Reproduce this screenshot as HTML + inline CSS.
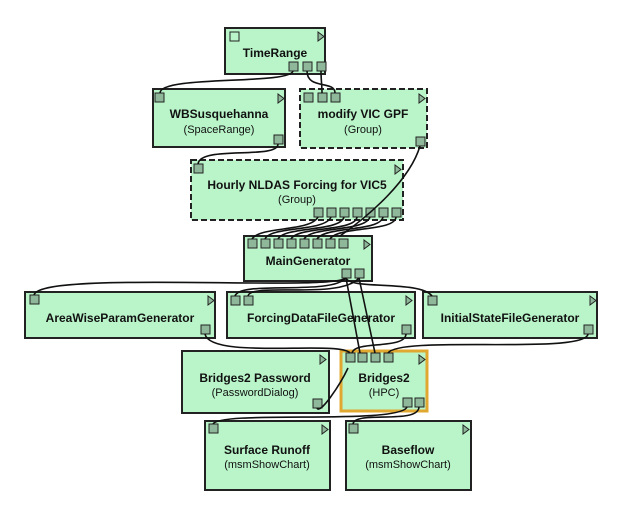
<!DOCTYPE html>
<html><head><style>body{margin:0;background:#fff}svg{display:block}text{font-family:"Liberation Sans",sans-serif;fill:#111}.b{font-weight:bold;font-size:12px}.s{font-size:11px}</style></head><body>
<svg width="634" height="512" xmlns="http://www.w3.org/2000/svg">
<defs>
<g id="p"><rect width="9" height="9" fill="#8fb89a" stroke="#222" stroke-width="1"/></g>
<g id="t"><path d="M0 0 L6 4.5 L0 9 Z" fill="#8fb89a" stroke="#222" stroke-width="1"/></g>
</defs>
<g fill="#b9f5c9" stroke="#222" stroke-width="2">
<rect x="225" y="28" width="100" height="46"/>
<rect x="153" y="89" width="132" height="58"/>
<rect x="300" y="89" width="127" height="59" stroke-dasharray="6,3"/>
<rect x="191" y="160" width="212" height="60" stroke-dasharray="6,3"/>
<rect x="244" y="236" width="128" height="45"/>
<rect x="25" y="292" width="190" height="46"/>
<rect x="227" y="292" width="188" height="46"/>
<rect x="423" y="292" width="174" height="46"/>
<rect x="182" y="351" width="147" height="62"/>
<rect x="341" y="351" width="86" height="60" stroke="#e0a830" stroke-width="3"/>
<rect x="205" y="421" width="125" height="69"/>
<rect x="346" y="421" width="125" height="69"/>
</g>
<rect x="230" y="32" width="9" height="9" fill="none" stroke="#222"/>
<use href="#t" x="318" y="32"/><use href="#t" x="278" y="94"/><use href="#t" x="419" y="94"/>
<use href="#t" x="395" y="165"/><use href="#t" x="364" y="240"/><use href="#t" x="208" y="296"/>
<use href="#t" x="406" y="296"/><use href="#t" x="590" y="296"/><use href="#t" x="320" y="355"/>
<use href="#t" x="419" y="355"/><use href="#t" x="322" y="425"/><use href="#t" x="463" y="425"/>
<use href="#p" x="289" y="62"/><use href="#p" x="303" y="62"/><use href="#p" x="317" y="62"/>
<use href="#p" x="155" y="93"/><use href="#p" x="274" y="135"/>
<use href="#p" x="304" y="93"/><use href="#p" x="318" y="93"/><use href="#p" x="331" y="93"/><use href="#p" x="416" y="137"/>
<use href="#p" x="194" y="164"/>
<use href="#p" x="314" y="208"/><use href="#p" x="327" y="208"/><use href="#p" x="340" y="208"/><use href="#p" x="353" y="208"/><use href="#p" x="366" y="208"/><use href="#p" x="379" y="208"/><use href="#p" x="392" y="208"/>
<use href="#p" x="248" y="239"/><use href="#p" x="261" y="239"/><use href="#p" x="274" y="239"/><use href="#p" x="287" y="239"/><use href="#p" x="300" y="239"/><use href="#p" x="313" y="239"/><use href="#p" x="326" y="239"/><use href="#p" x="339" y="239"/>
<use href="#p" x="342" y="269"/><use href="#p" x="355" y="269"/>
<use href="#p" x="30" y="295"/><use href="#p" x="201" y="325"/>
<use href="#p" x="231" y="296"/><use href="#p" x="244" y="296"/><use href="#p" x="402" y="325"/>
<use href="#p" x="428" y="296"/><use href="#p" x="584" y="325"/>
<use href="#p" x="313" y="399"/>
<use href="#p" x="346" y="353"/><use href="#p" x="358" y="353"/><use href="#p" x="371" y="353"/><use href="#p" x="384" y="353"/>
<use href="#p" x="403" y="398"/><use href="#p" x="415" y="398"/>
<use href="#p" x="209" y="424"/><use href="#p" x="349" y="424"/>
<g fill="none" stroke="#111" stroke-width="1.6">
<path d="M293 71 C290 85 160 75 160 93"/>
<path d="M307 71 C307 90 335 80 335 93"/>
<path d="M321 71 C321 80 322 85 322 93"/>
<path d="M278 144 C278 160 200 145 198 164"/>
<path d="M420 146 C410 180 370 215 340 236"/>
<path d="M318 217 C310 232 260 226 252 239"/>
<path d="M331 217 C325 232 270 226 265 239"/>
<path d="M344 217 C340 232 285 226 278 239"/>
<path d="M357 217 C355 232 298 226 291 239"/>
<path d="M370 217 C365 232 312 226 304 239"/>
<path d="M383 217 C380 232 325 226 317 239"/>
<path d="M396 217 C395 232 338 226 330 239"/>
<path d="M346 278 C330 292 40 270 34 295"/>
<path d="M346 278 C330 296 240 280 235 296"/>
<path d="M359 278 C340 300 250 282 248 296"/>
<path d="M346 278 C350 290 420 280 432 296"/>
<path d="M346 278 L360 353"/>
<path d="M359 278 L375 353"/>
<path d="M205 334 C210 360 340 340 350 353"/>
<path d="M406 334 C405 350 355 340 352 353"/>
<path d="M588 334 C585 355 400 335 388 353"/>
<path d="M317 408 C320 415 340 385 348 368"/>
<path d="M407 407 C400 425 220 410 213 424"/>
<path d="M419 407 C418 425 355 410 353 424"/>
</g>
<g text-anchor="middle">
<text class="b" x="275" y="57">TimeRange</text>
<text class="b" x="219" y="118">WBSusquehanna</text><text class="s" x="219" y="133">(SpaceRange)</text>
<text class="b" x="363" y="118">modify VIC GPF</text><text class="s" x="363" y="133">(Group)</text>
<text class="b" x="297" y="189">Hourly NLDAS Forcing for VIC5</text><text class="s" x="297" y="203">(Group)</text>
<text class="b" x="308" y="265">MainGenerator</text>
<text class="b" x="120" y="322">AreaWiseParamGenerator</text>
<text class="b" x="321" y="322">ForcingDataFileGenerator</text>
<text class="b" x="510" y="322">InitialStateFileGenerator</text>
<text class="b" x="255" y="382">Bridges2 Password</text><text class="s" x="255" y="396">(PasswordDialog)</text>
<text class="b" x="384" y="382">Bridges2</text><text class="s" x="384" y="396">(HPC)</text>
<text class="b" x="267" y="454">Surface Runoff</text><text class="s" x="267" y="468">(msmShowChart)</text>
<text class="b" x="408" y="454">Baseflow</text><text class="s" x="408" y="468">(msmShowChart)</text>
</g>
</svg>
</body></html>
